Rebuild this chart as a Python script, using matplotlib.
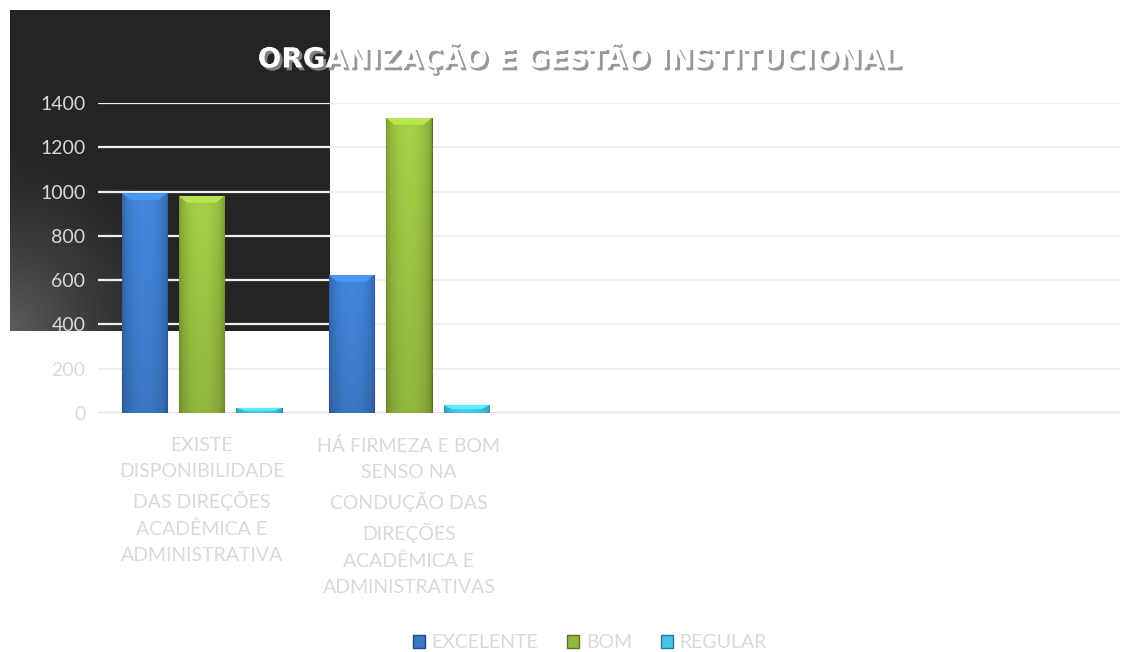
import numpy as np
import matplotlib
matplotlib.use('agg')
import matplotlib.pyplot as plt
import matplotlib.patheffects as pe
from matplotlib.patches import Patch
from matplotlib.colors import to_rgb

# data
categorias = ["EXISTE\nDISPONIBILIDADE\nDAS DIREÇÕES\nACADÊMICA E\nADMINISTRATIVA",
              "HÁ FIRMEZA E BOM\nSENSO NA\nCONDUÇÃO DAS\nDIREÇÕES\nACADÊMICA E\nADMINISTRATIVAS"]
series = ["EXCELENTE", "BOM", "REGULAR"]
excelente = [993, 623]
bom = [980, 1332]
regular = [22, 35]
yticks = [0, 200, 400, 600, 800, 1000, 1200, 1400]

cores = ["#3b78c6", "#93b83e", "#45c3e3"]
bordas = ["#22497e", "#5a7324", "#1f7f99"]
cinza = "#d9d9d9"

plt.rcParams['font.family'] = ['Lato', 'DejaVu Sans']

fig = plt.figure(figsize=(11.21, 6.52), dpi=100)
W, H = 1121, 652

# dark block in the upper left corner
bg = fig.add_axes([10 / W, 1 - 331 / H, 320 / W, 321 / H])
yy, xx = np.mgrid[0:1:200j, 0:1:200j]
d = np.sqrt((xx / 0.55) ** 2 + ((yy) / 0.6) ** 2)
lum = 0.145 + 0.22 * np.clip(1 - d, 0, 1) ** 1.5
bg.imshow(np.dstack([lum, lum, lum]), origin='lower', extent=(0, 1, 0, 1), aspect='auto')
bg.set_axis_off()

ax = fig.add_axes([98 / W, 1 - 413 / H, 1022 / W, 310 / H])
ax.patch.set_visible(False)

x = np.arange(len(categorias))
larg = 0.218
passo = 0.277
valores = [excelente, bom, regular]

for i, vals in enumerate(valores):
    barras = ax.bar(x + (i - 1) * passo, vals, larg, color=cores[i],
                    edgecolor=bordas[i], linewidth=0.8, zorder=3)
    base = np.array(to_rgb(cores[i]))
    perfil = 0.78 + 0.3 * np.sin(np.linspace(0, np.pi, 60)) ** 0.5
    vert = np.linspace(0.92, 1.05, 40)[:, None]
    img = np.clip(base[None, None, :] * perfil[None, :, None] * vert[:, :, None], 0, 1)
    for b in barras:
        x0, y0 = b.get_x(), b.get_y()
        x1, y1 = x0 + b.get_width(), y0 + b.get_height()
        im = ax.imshow(img, extent=(x0, x1, y0, y1), origin='lower',
                       aspect='auto', zorder=3.5)
        im.set_clip_path(b)
        # lighter bevel on top
        h = min(30, (y1 - y0) * 0.5)
        dx = larg * 0.18
        ax.fill([x0, x1, x1 - dx, x0 + dx], [y1, y1, y1 - h, y1 - h],
                color=np.clip(base * 1.25, 0, 1), zorder=3.6, lw=0)

ax.set_xlim(-0.5, 4.43)
ax.set_ylim(0, 1400)
ax.set_yticks(yticks)
ax.set_yticklabels([str(v) for v in yticks], fontsize=14, color=cinza)
ax.set_xticks(x)
ax.set_xticklabels(categorias, fontsize=14, color=cinza, linespacing=1.65)
ax.tick_params(length=0, pad=9)
ax.tick_params(axis='x', pad=17)
ax.grid(axis='y', color='#efefef', linewidth=1.6, zorder=1)
ax.axhline(0, color='#e4e4e4', linewidth=1.6, zorder=2)
for s in ax.spines.values():
    s.set_visible(False)

fig.text(578 / W, 1 - 57 / H, "ORGANIZAÇÃO E GESTÃO INSTITUCIONAL",
         ha='center', va='center', fontsize=20, fontweight='bold',
         family=['DejaVu Sans'], color='white',
         path_effects=[pe.withSimplePatchShadow(offset=(2, -2), shadow_rgbFace='#8c8c8c', alpha=0.9)])

handles = [Patch(facecolor=cores[i], edgecolor=bordas[i], label=series[i]) for i in range(3)]
leg = fig.legend(handles=handles, loc='center', bbox_to_anchor=(590 / W, 1 - 643 / H),
                 ncol=3, frameon=False, fontsize=14, handlelength=0.6, handleheight=0.6,
                 handletextpad=0.35, columnspacing=1.5)
for t in leg.get_texts():
    t.set_color(cinza)

fig.savefig('out.png', dpi=100)
